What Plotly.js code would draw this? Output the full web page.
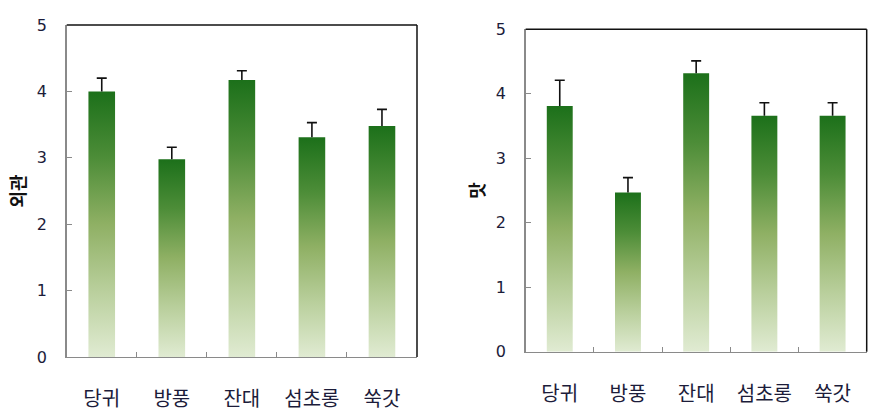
<!DOCTYPE html>
<html>
<head>
<meta charset="utf-8">
<script src="https://cdn.plot.ly/plotly-3.0.1.min.js"></script>
<style>
html,body{margin:0;padding:0;background:#fff;}
#chart{width:879px;height:412px;}
</style>
</head>
<body>
<div id="chart"></div>
<script>
// ---- data ----
const categories = ['당귀', '방풍', '잔대', '섬초롱', '쑥갓'];
const appearance = [4.00, 2.98, 4.17, 3.31, 3.48];
const appearanceErr = [0.20, 0.18, 0.14, 0.22, 0.25];
const taste = [3.81, 2.47, 4.32, 3.66, 3.66];
const tasteErr = [0.40, 0.23, 0.19, 0.20, 0.20];
const yTickVals = [0, 1, 2, 3, 4, 5];
const yTitleLeft = '외관';
const yTitleRight = '맛';

const korFont = '"Noto Sans CJK KR", "Noto Sans", sans-serif';
const numFont = '"DejaVu Sans", "Noto Sans", sans-serif';
const tickColor = '#1c1c3a';
const axisGray = '#8a8a8a';

function barTrace(y, err, xa, ya) {
  return {
    type: 'bar', x: categories, y: y, xaxis: xa, yaxis: ya,
    marker: {color: '#6a9a48', line: {width: 0}},
    error_y: {type: 'data', symmetric: false, array: err, arrayminus: err.map(() => 0),
      color: '#111', thickness: 1.6, width: 5},
    hoverinfo: 'x+y', showlegend: false
  };
}

const xCommon = {
  type: 'category', showline: true, linecolor: axisGray, linewidth: 1.5,
  ticks: 'inside', tickson: 'boundaries', ticklen: 5, tickcolor: axisGray, tickwidth: 1,
  tickfont: {family: korFont, size: 20, color: tickColor}, ticklabelstandoff: 24,
  showgrid: false, zeroline: false, fixedrange: true
};
const yCommon = {
  range: [0, 5], tickvals: yTickVals, showline: true, linecolor: axisGray, linewidth: 1.5,
  ticks: 'inside', ticklen: 5, tickcolor: axisGray, tickwidth: 1,
  tickfont: {family: numFont, size: 16, color: tickColor}, ticklabelstandoff: 15,
  showgrid: false, zeroline: false, fixedrange: true
};

const layout = {
  width: 879, height: 412,
  margin: {l: 0, r: 0, t: 0, b: 0},
  paper_bgcolor: '#fff', plot_bgcolor: '#fff',
  bargap: 0.62,
  xaxis: Object.assign({}, xCommon, {domain: [0.0759, 0.4744], anchor: 'y'}),
  yaxis: Object.assign({}, yCommon, {domain: [0.1335, 0.9393], anchor: 'x',
    title: {text: yTitleLeft, font: {family: korFont, size: 18, color: '#111', weight: 'bold'}, standoff: 6}}),
  xaxis2: Object.assign({}, xCommon, {domain: [0.598, 0.986], anchor: 'y2'}),
  yaxis2: Object.assign({}, yCommon, {domain: [0.1464, 0.9289], anchor: 'x2',
    title: {text: yTitleRight, font: {family: korFont, size: 18, color: '#111', weight: 'bold'}, standoff: 6}}),
  shapes: [
    {type: 'line', xref: 'x domain', yref: 'y domain', x0: 0, x1: 1, y0: 1, y1: 1, line: {color: '#111', width: 1.5}},
    {type: 'line', xref: 'x domain', yref: 'y domain', x0: 1, x1: 1, y0: 0, y1: 1, line: {color: '#111', width: 1.5}},
    {type: 'line', xref: 'x2 domain', yref: 'y2 domain', x0: 0, x1: 1, y0: 1, y1: 1, line: {color: '#111', width: 1.5}},
    {type: 'line', xref: 'x2 domain', yref: 'y2 domain', x0: 1, x1: 1, y0: 0, y1: 1, line: {color: '#111', width: 1.5}}
  ]
};

const data = [barTrace(appearance, appearanceErr, 'x', 'y'), barTrace(taste, tasteErr, 'x2', 'y2')];

function applyStyling(gd) {
  const svg = gd.querySelector('svg.main-svg');
  if (!svg) return;
  const ns = 'http://www.w3.org/2000/svg';
  let defs = svg.querySelector('defs');
  if (!defs) { defs = document.createElementNS(ns, 'defs'); svg.insertBefore(defs, svg.firstChild); }
  if (!svg.querySelector('#barGrad')) {
    const g = document.createElementNS(ns, 'linearGradient');
    g.setAttribute('id', 'barGrad');
    g.setAttribute('x1', '0'); g.setAttribute('y1', '0');
    g.setAttribute('x2', '0'); g.setAttribute('y2', '1');
    const stops = [[0, '#1c701a'], [0.25, '#4d8d38'], [0.5, '#8fb064'], [0.75, '#b9cf9c'], [1, '#e0ebd2']];
    stops.forEach(s => {
      const st = document.createElementNS(ns, 'stop');
      st.setAttribute('offset', s[0]);
      st.setAttribute('stop-color', s[1]);
      g.appendChild(st);
    });
    defs.appendChild(g);
  }
  gd.querySelectorAll('.barlayer .point path').forEach(p => {
    p.style.fill = 'url(#barGrad)';
  });
  // remove the lower cap of the one-sided error bars
  gd.querySelectorAll('.errorbar path.yerror').forEach(p => {
    const d = p.getAttribute('d') || '';
    p.setAttribute('d', d.replace(/m-?[\d.]+,0h[\d.]+\s*$/i, ''));
  });
}

Plotly.newPlot('chart', data, layout, {displayModeBar: false, staticPlot: true}).then(gd => {
  applyStyling(gd);
  gd.on && gd.on('plotly_afterplot', () => applyStyling(gd));
});
</script>
</body>
</html>
